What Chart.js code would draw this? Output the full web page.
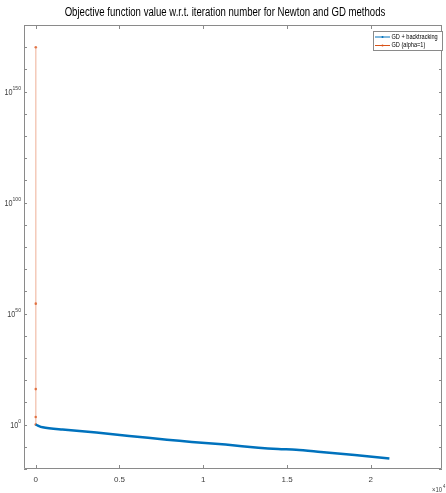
<!DOCTYPE html>
<html>
<head>
<meta charset="utf-8">
<script src="https://cdn.jsdelivr.net/npm/chart.js@4.4.0/dist/chart.umd.min.js"></script>
<style>
html, body { margin: 0; padding: 0; background: #fff; }
</style>
</head>
<body>
<canvas id="grafico" width="446" height="493"></canvas>
<script>
const titulo = "Objective function value w.r.t. iteration number for Newton and GD methods";
const etiquetas = ["GD + backtracking", "GD (alpha=1)"];

// GD + backtracking: iteracion y valor de la funcion objetivo
const iterBT = [0, 415, 1600, 3620, 5580, 7830, 9310, 11330, 13290, 14470, 15540, 17020, 19040, 21110];
const valorBT = [1, 6e-2, 5.6e-3, 2.5e-4, 8e-6, 1.6e-7, 1.6e-8, 1e-9, 4e-11, 1e-11, 5e-12, 5e-13, 2e-14, 5e-16];

// GD con alpha=1 (diverge)
const iterAlfa = [0, 1, 2, 3, 4];
const valorAlfa = [1, 2.5e3, 1e16, 3e54, 1e170];

// ticks
const ticksX = [0, 5000, 10000, 15000, 20000];
const exponentesY = [-20, -10, 0, 10, 20, 30, 40, 50, 60, 70, 80, 90, 100, 110, 120, 130, 140, 150, 160, 170, 180];
const exponentesEtiqueta = [0, 50, 100, 150];

const azul = '#0072BD';
const naranja = '#D95319';
const fuente = '"Liberation Sans", "DejaVu Sans", sans-serif';

// texto comprimido horizontalmente (la fuente original es condensada)
function textoAngosto(ctx, txt, x, y, escala) {
    ctx.save();
    ctx.translate(x, y);
    ctx.scale(escala, 1);
    ctx.fillText(txt, 0, 0);
    ctx.restore();
}

const pluginEjes = {
    id: 'ejes',
    afterDraw(chart) {
        const ctx = chart.ctx;
        const a = chart.chartArea;
        const sx = chart.scales.x;
        const sy = chart.scales.y;
        ctx.save();
        ctx.strokeStyle = '#8a8a8a';
        ctx.lineWidth = 1;
        ctx.beginPath();
        ctx.rect(a.left + 0.5, a.top + 0.5, a.right - a.left - 1, a.bottom - a.top - 1);
        ctx.stroke();
        // ticks hacia adentro
        ctx.beginPath();
        ticksX.forEach(v => {
            const px = Math.round(sx.getPixelForValue(v)) + 0.5;
            ctx.moveTo(px, a.bottom); ctx.lineTo(px, a.bottom - 4);
            ctx.moveTo(px, a.top); ctx.lineTo(px, a.top + 4);
        });
        exponentesY.forEach(e => {
            const py = Math.round(sy.getPixelForValue(Math.pow(10, e))) + 0.5;
            ctx.moveTo(a.left, py); ctx.lineTo(a.left + 3, py);
            ctx.moveTo(a.right, py); ctx.lineTo(a.right - 3, py);
        });
        ctx.stroke();

        // etiquetas del eje y: 10 con exponente
        ctx.fillStyle = '#404040';
        ctx.textBaseline = 'middle';
        exponentesEtiqueta.forEach(e => {
            const py = sy.getPixelForValue(Math.pow(10, e));
            const exp = String(e);
            ctx.font = '6px ' + fuente;
            const we = ctx.measureText(exp).width * 0.85;
            ctx.font = '8.5px ' + fuente;
            const wb = ctx.measureText('10').width * 0.85;
            const x0 = a.left - 3 - we - wb;
            ctx.textAlign = 'left';
            textoAngosto(ctx, '10', x0, py + 1, 0.85);
            ctx.font = '6px ' + fuente;
            textoAngosto(ctx, exp, x0 + wb, py - 3, 0.85);
        });

        // titulo
        ctx.fillStyle = '#000';
        ctx.font = '12px ' + fuente;
        ctx.textAlign = 'center';
        ctx.textBaseline = 'middle';
        textoAngosto(ctx, titulo, 225, 13, 0.8);

        // x10^4
        ctx.fillStyle = '#404040';
        ctx.textAlign = 'left';
        ctx.font = '7px ' + fuente;
        textoAngosto(ctx, '×10', 432, 490, 0.85);
        ctx.font = '5px ' + fuente;
        textoAngosto(ctx, '4', 443, 487, 0.85);

        // leyenda
        const lx = 373, ly = 31, lw = 69, lh = 19;
        ctx.fillStyle = '#fff';
        ctx.fillRect(lx, ly, lw, lh);
        ctx.strokeStyle = '#8a8a8a';
        ctx.strokeRect(lx + 0.5, ly + 0.5, lw, lh);
        const colores = [azul, naranja];
        ctx.textBaseline = 'middle';
        ctx.textAlign = 'left';
        colores.forEach((c, i) => {
            const y = ly + 6 + i * 8.5;
            ctx.strokeStyle = c;
            ctx.beginPath();
            ctx.moveTo(lx + 2, y); ctx.lineTo(lx + 17, y);
            ctx.stroke();
            ctx.fillStyle = c;
            ctx.beginPath();
            ctx.arc(lx + 9.5, y, 1, 0, Math.PI * 2);
            ctx.fill();
            ctx.fillStyle = '#000';
            ctx.font = '7px ' + fuente;
            textoAngosto(ctx, etiquetas[i], lx + 18.5, y, 0.8);
        });
        ctx.restore();
    }
};

new Chart(document.getElementById('grafico'), {
    type: 'line',
    data: {
        datasets: [
            {
                label: etiquetas[0],
                data: iterBT.map((x, i) => ({ x: x, y: valorBT[i] })),
                borderColor: azul,
                borderWidth: 2.5,
                pointRadius: 0,
                tension: 0.3,
                fill: false
            },
            {
                label: etiquetas[1],
                data: iterAlfa.map((x, i) => ({ x: x, y: valorAlfa[i] })),
                borderColor: 'rgba(217, 83, 25, 0.3)',
                borderWidth: 1.5,
                pointRadius: 1.3,
                pointBorderWidth: 0,
                pointBackgroundColor: 'rgba(217, 83, 25, 0.75)',
                fill: false
            }
        ]
    },
    options: {
        responsive: false,
        animation: false,
        devicePixelRatio: 1,
        layout: { padding: { top: 25, right: 1, left: 0, bottom: 0 } },
        plugins: {
            legend: { display: false },
            title: { display: false },
            tooltip: { enabled: false }
        },
        scales: {
            x: {
                type: 'linear',
                min: -700,
                max: 24250,
                grid: { display: false, drawTicks: false },
                border: { display: false },
                afterBuildTicks: s => { s.ticks = ticksX.map(v => ({ value: v })); },
                afterFit: s => { s.height = 24; },
                ticks: {
                    padding: 6,
                    maxRotation: 0,
                    color: '#404040',
                    font: { size: 8, family: fuente },
                    callback: v => String(v / 10000)
                }
            },
            y: {
                type: 'logarithmic',
                min: 1e-20,
                max: 1e180,
                grid: { display: false, drawTicks: false },
                border: { display: false },
                afterBuildTicks: s => { s.ticks = exponentesY.map(e => ({ value: Math.pow(10, e) })); },
                afterFit: s => { s.width = 24; },
                ticks: { display: false }
            }
        }
    },
    plugins: [pluginEjes]
});
</script>
</body>
</html>
